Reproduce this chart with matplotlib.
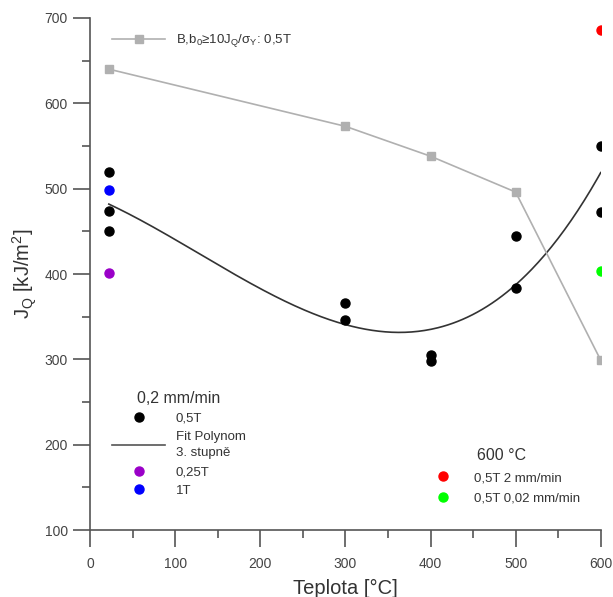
import numpy as np
import matplotlib
matplotlib.use("Agg")
import matplotlib.pyplot as plt
from matplotlib.lines import Line2D

plt.rcParams['font.family'] = ['Liberation Sans', 'DejaVu Sans']

# data
x_05T = [22, 22, 22, 300, 300, 400, 400, 500, 500, 600, 600]
y_05T = [520, 474, 450, 366, 346, 305, 298, 444, 384, 550, 473]
x_025T = [22]
y_025T = [401]
x_1T = [22]
y_1T = [499]
x_600_2 = [600]
y_600_2 = [686]
x_600_002 = [600]
y_600_002 = [404]
x_valid = [22, 300, 400, 500, 600]
y_valid = [640, 573, 538, 496, 299]

fig = plt.figure(figsize=(6.13, 5.97), dpi=100)
ax = fig.add_axes([0.147, 0.112, 0.833, 0.858])

# fit polynomial of 3rd degree
coef = np.polyfit(x_05T, y_05T, 3)
xf = np.linspace(min(x_05T), max(x_05T), 300)
ax.plot(xf, np.polyval(coef, xf), color='#333333', lw=1.2, zorder=2)

ax.plot(x_valid, y_valid, color='#b0b0b0', lw=1.2, marker='s', ms=6,
        mfc='#b0b0b0', mec='#b0b0b0', zorder=3)

ms = 6.5
ax.plot(x_05T, y_05T, 'o', color='black', ms=ms, zorder=4)
ax.plot(x_025T, y_025T, 'o', color='#9a00c8', ms=ms, zorder=4)
ax.plot(x_1T, y_1T, 'o', color='#0000ff', ms=ms, zorder=4)
ax.plot(x_600_2, y_600_2, 'o', color='#ff0000', ms=ms, zorder=4)
ax.plot(x_600_002, y_600_002, 'o', color='#00ff00', ms=ms, zorder=4)

ax.set_xlim(0, 600)
ax.set_ylim(100, 700)
ax.set_xticks(range(0, 601, 100))
ax.set_xticks(range(50, 600, 100), minor=True)
ax.set_yticks(range(100, 701, 100))
ax.set_yticks(range(150, 700, 100), minor=True)
for s in ['top', 'right']:
    ax.spines[s].set_visible(False)
for s in ['left', 'bottom']:
    ax.spines[s].set_color('#555555')
    ax.spines[s].set_linewidth(1.2)
ax.tick_params(which='major', length=12, width=1.2, color='#555555',
               labelsize=10, labelcolor='#444444')
ax.tick_params(which='minor', length=6, width=1.2, color='#555555')
ax.tick_params(axis='x', which='major', pad=7)
ax.tick_params(axis='y', which='major', pad=4)
ax.set_xlabel('Teplota [°C]', fontsize=14.5, color='#333333', labelpad=6)
ax.set_ylabel('J$_\\mathregular{Q}$ [kJ/m$^\\mathregular{2}$]', fontsize=14.5,
              color='#333333', labelpad=4)

# legends
h_top = [Line2D([], [], color='#b0b0b0', lw=1.2, marker='s', ms=6)]
leg1 = ax.legend(h_top, ['B,b$_\\mathregular{0}$≥10J$_\\mathregular{Q}$/σ$_\\mathregular{Y}$: 0,5T'],
                 loc='upper left', bbox_to_anchor=(0.02, 0.995), frameon=False,
                 fontsize=9.5, handlelength=4, labelcolor='#333333')
ax.add_artist(leg1)

h_low = [Line2D([], [], ls='', marker='o', color='black', ms=ms),
         Line2D([], [], color='#555555', lw=1.2),
         Line2D([], [], ls='', marker='o', color='#9a00c8', ms=ms),
         Line2D([], [], ls='', marker='o', color='#0000ff', ms=ms)]
leg2 = ax.legend(h_low, ['0,5T', 'Fit Polynom\n3. stupně', '0,25T', '1T'],
                 title='0,2 mm/min', loc='upper left', bbox_to_anchor=(0.02, 0.295),
                 frameon=False, fontsize=9.5, title_fontsize=11.5, handlelength=4,
                 labelspacing=0.5, labelcolor='#333333')
leg2.get_title().set_color('#333333')
for t in leg2.get_texts():
    t.set_linespacing(1.45)
ax.add_artist(leg2)

h_r = [Line2D([], [], ls='', marker='o', color='#ff0000', ms=ms),
       Line2D([], [], ls='', marker='o', color='#00ff00', ms=ms)]
leg3 = ax.legend(h_r, ['0,5T 2 mm/min', '0,5T 0,02 mm/min'], title='600 °C',
                 loc='upper left', bbox_to_anchor=(0.63, 0.183), frameon=False,
                 fontsize=9.5, title_fontsize=11.5, handlelength=3,
                 labelspacing=0.65, labelcolor='#333333')
leg3.get_title().set_color('#333333')

fig.savefig('out.png', dpi=100)
